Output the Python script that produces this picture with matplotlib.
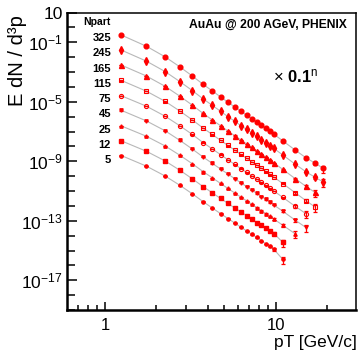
import numpy as np
import matplotlib
matplotlib.use("Agg")
import matplotlib.pyplot as plt
from matplotlib.ticker import FixedLocator, NullFormatter

plt.rcParams['font.family'] = ['Liberation Sans', 'DejaVu Sans']
plt.rcParams['mathtext.fontset'] = 'custom'
plt.rcParams['mathtext.rm'] = 'Liberation Sans'
plt.rcParams['mathtext.bf'] = 'Liberation Sans:bold'
plt.rcParams['mathtext.it'] = 'Liberation Sans:italic'

# pT bin centres [GeV/c]
pt = [1.25, 1.75, 2.25, 2.75, 3.25, 3.75, 4.25, 4.75, 5.25, 5.75, 6.25, 6.75,
      7.25, 7.75, 8.25, 8.75, 9.25, 9.75, 11, 13, 15, 17, 19]

npart = ['325', '245', '165', '115', '75', '45', '25', '12', '5']

# log10 of the yield before the 0.1^n scaling
logy_325 = [-0.52, -1.27, -1.98, -2.66, -3.27, -3.82, -4.27, -4.67, -5.03, -5.35, -5.64, -5.90,
            -6.14, -6.37, -6.58, -6.79, -6.99, -7.18, -7.63, -8.25, -8.76, -9.13, -9.48]
logy_245 = [-0.53, -1.27, -1.97, -2.65, -3.25, -3.80, -4.24, -4.64, -5.00, -5.31, -5.60, -5.86,
            -6.10, -6.33, -6.54, -6.75, -6.95, -7.14, -7.58, -8.20, -8.70, -9.08, -9.40]
logy_165 = [-0.54, -1.27, -1.96, -2.63, -3.23, -3.78, -4.22, -4.61, -4.97, -5.28, -5.57, -5.83,
            -6.07, -6.30, -6.51, -6.72, -6.92, -7.11, -7.55, -8.17, -8.68, -9.10]
logy_115 = [-0.57, -1.29, -1.97, -2.63, -3.22, -3.76, -4.20, -4.59, -4.94, -5.25, -5.54, -5.80,
            -6.04, -6.26, -6.47, -6.68, -6.88, -7.07, -7.50, -8.12, -8.64, -9.08]
logy_75 = [-0.60, -1.30, -1.97, -2.62, -3.20, -3.74, -4.17, -4.55, -4.90, -5.21, -5.49, -5.75,
           -5.98, -6.21, -6.42, -6.62, -6.82, -7.00, -7.43, -8.03, -8.52]
logy_45 = [-0.58, -1.29, -1.95, -2.60, -3.18, -3.71, -4.14, -4.52, -4.86, -5.17, -5.45, -5.70,
           -5.94, -6.16, -6.37, -6.57, -6.76, -6.94, -7.36, -7.96, -8.45]
logy_25 = [-0.63, -1.32, -1.97, -2.60, -3.17, -3.69, -4.11, -4.49, -4.83, -5.13, -5.41, -5.66,
           -5.89, -6.12, -6.32, -6.52, -6.71, -6.89, -7.30, -7.88]
logy_12 = [-0.63, -1.33, -1.98, -2.61, -3.18, -3.70, -4.12, -4.50, -4.83, -5.14, -5.40, -5.66,
           -5.88, -6.12, -6.30, -6.50, -6.72, -6.86, -7.45]
logy_5 = [-0.62, -1.33, -1.99, -2.62, -3.19, -3.71, -4.14, -4.52, -4.85, -5.15, -5.43, -5.68,
          -5.92, -6.12, -6.35, -6.55, -6.72, -6.92, -7.60]

all_logy = [logy_325, logy_245, logy_165, logy_115, logy_75, logy_45, logy_25, logy_12, logy_5]

# relative errors of the last three points of each series (the rest hide under markers)
tail_err = [0.12, 0.25, 0.5]

# marker style per centrality
styles = [
    dict(marker='o', ms=3.4, mfc='red'),
    dict(marker='d', ms=3.8, mfc='red'),
    dict(marker='^', ms=3.6, mfc='red'),
    dict(marker='s', ms=3.0, mfc='none', mew=0.8),
    dict(marker='o', ms=3.0, mfc='none', mew=0.8),
    dict(marker='v', ms=2.4, mfc='red'),
    dict(marker='^', ms=2.4, mfc='red'),
    dict(marker='s', ms=2.2, mfc='red'),
    dict(marker='o', ms=2.3, mfc='red'),
]

fig = plt.figure(figsize=(3.63, 3.60), dpi=100)
ax = fig.add_axes([67 / 363, 1 - 310 / 360, 289 / 363, 297.5 / 360])

for n, logy in enumerate(all_logy):
    x = np.array(pt[:len(logy)])
    y = 10.0 ** np.array(logy) * 0.1 ** n
    err = np.full(len(y), 0.03)
    err[-3:] = tail_err
    ax.plot(x, y, '-', color='#b8b8b8', lw=0.8, zorder=1)
    ax.errorbar(x, y, yerr=err * y, fmt='none', ecolor='red', elinewidth=0.9,
                capsize=1.3, capthick=0.9, zorder=2)
    ax.plot(x, y, ls='none', color='red', mec='red', zorder=3, **styles[n])

ax.set_xscale('log')
ax.set_yscale('log')
ax.set_xlim(0.6, 29.5)
ax.set_ylim(1e-19, 10)

ax.xaxis.set_major_locator(FixedLocator([1, 10]))
ax.xaxis.set_minor_locator(FixedLocator([0.7, 0.8, 0.9, 2, 3, 4, 5, 6, 7, 8, 9, 20]))
ax.set_xticklabels(['1', '10'])
ax.xaxis.set_minor_formatter(NullFormatter())

major_y = [10.0, 1e-1, 1e-5, 1e-9, 1e-13, 1e-17]
ax.yaxis.set_major_locator(FixedLocator(major_y))
ax.yaxis.set_minor_locator(FixedLocator([10.0 ** k for k in range(-19, 2)]))
ax.set_yticklabels(['10', r'$10^{-1}$', r'$10^{-5}$', r'$10^{-9}$', r'$10^{-13}$', r'$10^{-17}$'])
ax.yaxis.set_minor_formatter(NullFormatter())

ax.tick_params(which='both', direction='in', top=False, right=False, width=1.1, color='black')
ax.tick_params(axis='y', which='major', length=7, labelsize=12.5, pad=3)
ax.tick_params(axis='y', which='minor', length=5.5)
ax.tick_params(axis='x', which='major', length=6, labelsize=12, pad=6)
ax.tick_params(axis='x', which='minor', length=3.5)

for side in ['left', 'bottom']:
    ax.spines[side].set_linewidth(1.8)
for side in ['top', 'right']:
    ax.spines[side].set_linewidth(1.1)

# annotations
ax.text(0.152, 0.968, 'Npart', transform=ax.transAxes, ha='right', va='center',
        fontsize=7.5, fontweight='bold')
for i, lab in enumerate(npart):
    ypix = 38 + 15.25 * i
    ax.text(0.152, 1 - (ypix - 12.5) / 297.5, lab, transform=ax.transAxes,
            ha='right', va='center', fontsize=8, fontweight='bold')

ax.text(0.969, 0.958, 'AuAu @ 200 AGeV, PHENIX', transform=ax.transAxes,
        ha='right', va='center', fontsize=8.7, fontweight='bold')
ax.text((273 - 67) / 289, 0.787, r'$\times\ \mathbf{0.1}^{\mathrm{n}}$', transform=ax.transAxes,
        ha='left', va='center', fontsize=12)

fig.text(18 / 363, 1 - 15 / 360, 'E dN / d³p', rotation=90, ha='center', va='top', fontsize=14.5)
fig.text(357 / 363, 1 - 343 / 360, 'pT [GeV/c]', ha='right', va='center', fontsize=12.5)

fig.savefig('out.png', dpi=100)
